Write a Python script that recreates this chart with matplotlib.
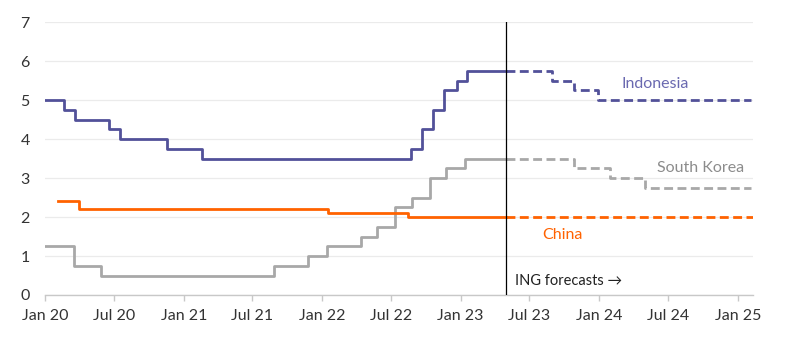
import pandas as pd
import matplotlib.pyplot as plt

# policy rate step changes (%)
indo_dates = ['2020-01-01', '2020-02-20', '2020-03-19', '2020-06-18', '2020-07-16', '2020-11-19',
              '2021-02-18', '2022-08-23', '2022-09-22', '2022-10-20', '2022-11-17', '2022-12-22',
              '2023-01-19', '2023-04-30']
indo_rates = [5.0, 4.75, 4.5, 4.25, 4.0, 3.75, 3.5, 3.75, 4.25, 4.75, 5.25, 5.5, 5.75, 5.75]
indo_fc_dates = ['2023-04-30', '2023-08-29', '2023-10-27', '2023-12-28', '2025-02-05']
indo_fc_rates = [5.75, 5.5, 5.25, 5.0, 5.0]

korea_dates = ['2020-01-01', '2020-03-17', '2020-05-28', '2021-08-26', '2021-11-25', '2022-01-14',
               '2022-04-14', '2022-05-26', '2022-07-13', '2022-08-25', '2022-10-12', '2022-11-24',
               '2023-01-13', '2023-04-30']
korea_rates = [1.25, 0.75, 0.5, 0.75, 1.0, 1.25, 1.5, 1.75, 2.25, 2.5, 3.0, 3.25, 3.5, 3.5]
korea_fc_dates = ['2023-04-30', '2023-10-26', '2024-01-29', '2024-05-01', '2025-02-04']
korea_fc_rates = [3.5, 3.25, 3.0, 2.75, 2.75]

china_dates = ['2020-02-03', '2020-03-30', '2022-01-17', '2022-08-15', '2023-04-30']
china_rates = [2.4, 2.2, 2.1, 2.0, 2.0]
china_fc_dates = ['2023-04-30', '2025-02-17']
china_fc_rates = [2.0, 2.0]

forecast_start = '2023-04-30'
tick_dates = ['2020-01-01', '2020-07-01', '2021-01-01', '2021-07-01', '2022-01-01', '2022-07-01',
              '2023-01-01', '2023-07-01', '2024-01-01', '2024-07-01', '2025-01-01']
tick_labels = ['Jan 20', 'Jul 20', 'Jan 21', 'Jul 21', 'Jan 22', 'Jul 22',
               'Jan 23', 'Jul 23', 'Jan 24', 'Jul 24', 'Jan 25']

PURPLE = '#525199'
ORANGE = '#FF6200'
GREY = '#A8A8A8'

plt.rcParams['font.family'] = ['Lato', 'DejaVu Sans']

fig = plt.figure(figsize=(8, 3.39), dpi=100)
ax = fig.add_axes([0.05625, 0.1298, 0.885, 0.805])

series = [
    (indo_dates, indo_rates, indo_fc_dates, indo_fc_rates, PURPLE),
    (korea_dates, korea_rates, korea_fc_dates, korea_fc_rates, GREY),
    (china_dates, china_rates, china_fc_dates, china_fc_rates, ORANGE),
]
for d, r, fd, fr, c in series:
    ax.plot(pd.to_datetime(d), r, drawstyle='steps-post', color=c, lw=2.0, zorder=3)
    ax.plot(pd.to_datetime(fd), fr, drawstyle='steps-post', color=c, lw=2.0,
            dashes=(3.2, 1.6), zorder=3)

ax.plot([pd.Timestamp(forecast_start)] * 2, [0, 7], color='black', lw=0.9, zorder=4)

ax.set_xlim(pd.Timestamp('2020-01-01'), pd.Timestamp('2025-02-10'))
ax.set_ylim(0, 7)
ax.set_yticks(range(8))
ax.set_xticks(pd.to_datetime(tick_dates))
ax.set_xticklabels(tick_labels)

ax.grid(axis='y', color='#ebebeb', lw=0.9)
ax.set_axisbelow(True)
for s in ['top', 'right', 'left']:
    ax.spines[s].set_visible(False)
ax.spines['bottom'].set_color('#c8c8c8')
ax.spines['bottom'].set_linewidth(1.0)
ax.tick_params(axis='y', length=0, pad=11, labelsize=11.5, labelcolor='#333333')
ax.tick_params(axis='x', length=4, color='#c8c8c8', width=1.0, pad=6, labelsize=11.5,
               labelcolor='#333333')

ax.text(pd.Timestamp('2024-03-01'), 5.41, 'Indonesia', color='#6a69b0', fontsize=11.5, va='center')
ax.text(pd.Timestamp('2024-06-01'), 3.26, 'South Korea', color='#8c8c8c', fontsize=11.5, va='center')
ax.text(pd.Timestamp('2023-08-05'), 1.54, 'China', color=ORANGE, fontsize=11.5, va='center')
ax.text(pd.Timestamp('2023-05-25'), 0.36, 'ING forecasts \u2192', color='#222222', fontsize=10.5,
        va='center', family=['Lato', 'DejaVu Sans'])

plt.savefig('out.png', dpi=100)
